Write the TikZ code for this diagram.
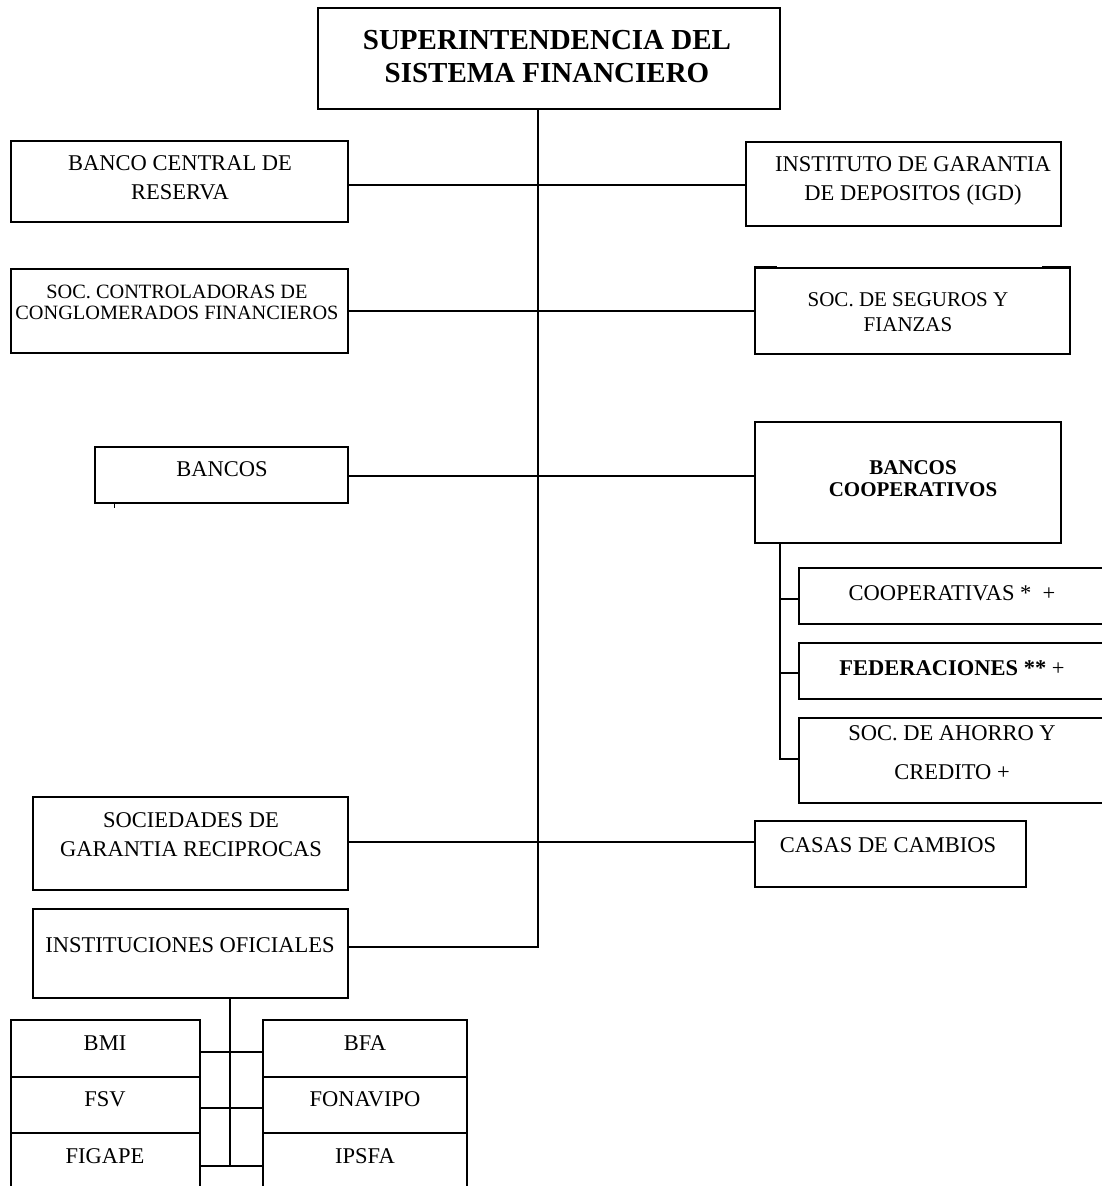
\documentclass[tikz,border=0pt]{standalone}
\usepackage{fontspec}
\setmainfont{Liberation Serif}
\usetikzlibrary{fit}
\begin{document}
\begin{tikzpicture}[x=1pt,y=-1pt, line width=1.3pt,
  box/.style={draw, line width=1.4pt, inner sep=0pt},
  txt/.style={inner sep=0pt, align=center, font=\fontsize{22.5}{29}\selectfont},
  txts/.style={inner sep=0pt, align=center, font=\fontsize{20.3}{21}\selectfont},
  conn/.style={line width=1.3pt}]
\useasboundingbox (0,0) rectangle (1101,1186);
% boxes
\node[box, fit={(318,8)(780,109)}] (sup) {};
\node[box, fit={(11,141)(348,222)}] (bcr) {};
\node[box, fit={(746,142)(1061,226)}] (igd) {};
\node[box, fit={(11,269)(348,353)}] (socc) {};
\node[box, fit={(755,268)(1070,354)}] (seg) {};
\node[box, fit={(95,447)(348,503)}] (bancos) {};
\node[box, fit={(755,422)(1061,543)}] (bcoop) {};
\node[box, fit={(799,568)(1108,624)}] (coop) {};
\node[box, fit={(799,643)(1108,699)}] (fed) {};
\node[box, fit={(799,718)(1108,803)}] (sac) {};
\node[box, fit={(33,797)(348,890)}] (sgr) {};
\node[box, fit={(755,821)(1026,887)}] (casas) {};
\node[box, fit={(33,909)(348,998)}] (inst) {};
\node[box, fit={(11,1020)(200,1077)}] (bmi) {};
\node[box, fit={(11,1077)(200,1133)}] (fsv) {};
\node[box, fit={(11,1133)(200,1200)}] (figape) {};
\node[box, fit={(263,1020)(467,1077)}] (bfa) {};
\node[box, fit={(263,1077)(467,1133)}] (fona) {};
\node[box, fit={(263,1133)(467,1200)}] (ipsfa) {};
% texts
\node[txt, font=\bfseries\fontsize{29}{33}\selectfont] (supt) at (547,56.5) {SUPERINTENDENCIA DEL\\SISTEMA FINANCIERO};
\node[txt] (bcrt) at (180,177.5) {BANCO CENTRAL DE\\RESERVA};
\node[txt] (igdt) at (913,181) {INSTITUTO DE GARANTIA\\DE DEPOSITOS (IGD)};
\node[txts] (socct) at (177,302.5) {SOC. CONTROLADORAS DE\\CONGLOMERADOS FINANCIEROS};
\node[txt, font=\fontsize{21}{25}\selectfont] (segt) at (908,312.5) {SOC. DE SEGUROS Y\\FIANZAS};
\node[txt] (bancost) at (222,469) {BANCOS};
\node[txt, font=\bfseries\fontsize{21}{22}\selectfont] (bcoopt) at (913,479) {BANCOS\\COOPERATIVOS};
\node[txt] (coopt) at (952,593) {COOPERATIVAS *\ \ +};
\node[txt] (fedt) at (952,668) {\textbf{FEDERACIONES **} +};
\node[txt, font=\fontsize{22.5}{39}\selectfont] (sact) at (952,752.5) {SOC. DE AHORRO Y\\CREDITO +};
\node[txt] (sgrt) at (191,834.5) {SOCIEDADES DE\\GARANTIA RECIPROCAS};
\node[txt] (casast) at (888,845) {CASAS DE CAMBIOS};
\node[txt] (instt) at (190,945) {INSTITUCIONES OFICIALES};
\node[txt] (bmit) at (105,1043) {BMI};
\node[txt] (fsvt) at (105,1099) {FSV};
\node[txt] (figapet) at (105,1156) {FIGAPE};
\node[txt] (bfat) at (365,1043) {BFA};
\node[txt] (fonat) at (365,1099) {FONAVIPO};
\node[txt] (ipsfat) at (365,1156) {IPSFA};
% trunk and branches
\coordinate (tend) at (538,947);
\coordinate (y1) at (538,185);
\coordinate (y2) at (538,311);
\coordinate (y3) at (538,476);
\coordinate (y4) at (538,842);
\draw[conn] (sup.south -| tend) -- (tend) -- (inst.east |- tend);
\draw[conn] (bcr.east |- y1) -- (igd.west |- y1);
\draw[conn] (socc.east |- y2) -- (seg.west |- y2);
\draw[conn] (bancos.east |- y3) -- (bcoop.west |- y3);
\draw[conn] (sgr.east |- y4) -- (casas.west |- y4);
% cooperative branch
\coordinate (c1) at (780,599);
\coordinate (c2) at (780,673);
\coordinate (c3) at (780,759);
\draw[conn] (bcoop.south -| c3) -- (c3) -- (sac.west |- c3);
\draw[conn] (c1) -- (coop.west |- c1);
\draw[conn] (c2) -- (fed.west |- c2);
% oficiales branch
\coordinate (o1) at (230,1052);
\coordinate (o2) at (230,1108);
\coordinate (o3) at (230,1166);
\draw[conn] (inst.south -| o3) -- (o3);
\draw[conn] (bmi.east |- o1) -- (bfa.west |- o1);
\draw[conn] (fsv.east |- o2) -- (fona.west |- o2);
\draw[conn] (figape.east |- o3) -- (ipsfa.west |- o3);
% small marks
\coordinate (tk) at (114,508);
\draw[line width=1pt] (bancos.south -| tk) -- (tk);
\coordinate (sm1) at (777,266.5);
\coordinate (sm2) at (1042,266.5);
\draw[line width=1.6pt] (seg.north west |- sm1) -- (sm1);
\draw[line width=1.6pt] (sm2) -- (seg.north east |- sm2);
\end{tikzpicture}
\end{document}
